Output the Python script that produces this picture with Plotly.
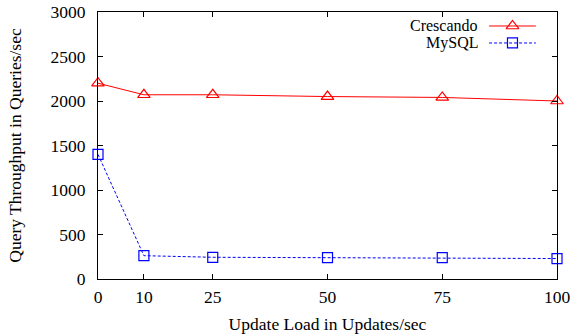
import plotly.graph_objects as go

x_load = [0, 10, 25, 50, 75, 100]
crescando = [2200, 2070, 2070, 2050, 2040, 2000]
mysql = [1400, 262, 244, 240, 240, 230]
x_ticks = [0, 10, 25, 50, 75, 100]
y_ticks = [0, 500, 1000, 1500, 2000, 2500, 3000]

FONT = "Liberation Serif"
FS = 17.5
RED = "#ff0000"
BLUE = "#0000ff"

fig = go.Figure()
fig.add_trace(go.Scatter(x=x_load, y=crescando, mode="lines+markers", name="Crescando",
                         line=dict(color=RED, width=1),
                         marker=dict(symbol="triangle-up-open", size=11, color=RED, line=dict(width=1.2)),
                         cliponaxis=False, showlegend=False))
fig.add_trace(go.Scatter(x=x_load, y=mysql, mode="lines+markers", name="MySQL",
                         line=dict(color=BLUE, width=1, dash="3px,2px"),
                         marker=dict(symbol="square-open", size=10, color=BLUE, line=dict(width=1.2)),
                         cliponaxis=False, showlegend=False))

# legend samples (gnuplot style: text right-aligned, sample on the right)
leg = [("Crescando", RED, "solid", "triangle-up-open", 11, 0.9476),
       ("MySQL", BLUE, "3px,2px", "square-open", 10, 0.884)]
for name, col, dash, sym, sz, yy in leg:
    fig.add_annotation(xref="paper", yref="paper", x=0.829, y=yy, text=name, showarrow=False,
                       xanchor="right", yanchor="middle", borderpad=0,
                       font=dict(family=FONT, size=16, color="black"))
    fig.add_shape(type="line", xref="paper", yref="paper", x0=0.852, x1=0.954, y0=yy, y1=yy,
                  line=dict(color=col, width=1, dash=dash))
    fig.add_trace(go.Scatter(x=[0.903], y=[yy], xaxis="x2", yaxis="y2", mode="markers",
                             marker=dict(symbol=sym, size=sz, color=col, line=dict(width=1.2)),
                             showlegend=False, hoverinfo="skip"))

axis_common = dict(showgrid=False, zeroline=False, showline=True, linecolor="black", linewidth=1,
                   ticks="inside", ticklen=5, tickcolor="black", mirror="ticks", automargin=False,
                   tickfont=dict(family=FONT, size=FS, color="black"))
fig.update_layout(
    template="none",
    width=572, height=335,
    margin=dict(l=98, r=15, t=12, b=56),
    paper_bgcolor="white", plot_bgcolor="white",
    font=dict(family=FONT, size=FS, color="black"),
    xaxis=dict(range=[0, 100], tickvals=x_ticks, ticktext=[str(v) for v in x_ticks],
               ticklabelstandoff=2,
               title=dict(text="Update Load in Updates/sec", font=dict(family=FONT, size=FS), standoff=11),
               **axis_common),
    yaxis=dict(range=[0, 3000], tickvals=y_ticks, ticktext=[str(v) for v in y_ticks],
               ticklabelstandoff=8,
               title=dict(text="Query Throughput in Queries/sec", font=dict(family=FONT, size=FS), standoff=24),
               **axis_common),
    xaxis2=dict(overlaying="x", range=[0, 1], visible=False),
    yaxis2=dict(overlaying="y", range=[0, 1], visible=False),
)
fig.write_html("out.html", config={"displayModeBar": False},
               post_script="document.body.style.margin='0';")
